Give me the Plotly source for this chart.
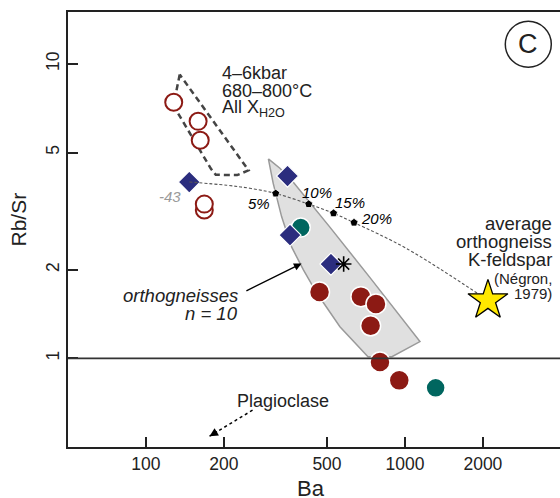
import numpy as np
import plotly.graph_objects as go

# ---------------- data ----------------
ba_open = [128, 159, 162, 168, 168]
rbsr_open = [7.41, 6.38, 5.50, 3.19, 3.34]

ba_red = [468, 676, 773, 737, 801, 951]
rbsr_red = [1.68, 1.62, 1.53, 1.29, 0.972, 0.842]

ba_dia = [147, 352, 360, 518]
rbsr_dia = [3.97, 4.16, 2.62, 2.09]

ba_teal = [396, 1314]
rbsr_teal = [2.78, 0.794]

ba_star = [2092]
rbsr_star = [1.574]

ba_ast = [580]
rbsr_ast = [2.09]

mix_ba = [147, 205, 252, 317, 425, 530, 636, 1015, 2092]
mix_rbsr = [3.97, 3.87, 3.78, 3.63, 3.34, 3.11, 2.89, 2.36, 1.574]

mix_tick_ba = [317, 425, 530, 636]
mix_tick_rbsr = [3.63, 3.34, 3.11, 2.89]
mix_tick_labels = ["5%", "10%", "15%", "20%"]

field_ba = [297, 329, 370, 513, 733, 1143, 891, 720, 561, 456, 405, 365, 334, 310, 297]
field_rbsr = [4.76, 4.42, 3.97, 2.79, 1.88, 1.14, 1.013, 1.013, 1.28, 1.67, 2.00, 2.39, 3.03, 3.93, 4.76]

melt_ba = [135, 130, 131, 178, 186, 225, 249, 135]
melt_rbsr = [9.2, 7.81, 6.95, 4.41, 4.20, 4.19, 4.35, 9.2]

plag_ba = [258, 176]
plag_rbsr = [0.667, 0.544]

x_ticks = [100, 200, 500, 1000, 2000]
y_ticks = [1, 2, 5, 10]

# ---------------- styles ----------------
FONT = "Liberation Sans, Arial, Helvetica, sans-serif"
DARK = "#222222"
RED = "#8C1A14"
NAVY = "#2B2D7E"
TEAL = "#00665F"

W, H = 560, 498
L, R, T, B = 68, 0, 12, 51
PW, PH = W - L - R, H - T - B


def px(x):
    return (x - L) / PW


def py(y):
    return (H - B - y) / PH


fig = go.Figure()

# grey orthogneiss field
fig.add_trace(go.Scatter(x=field_ba, y=field_rbsr, mode="lines", fill="toself",
                         fillcolor="#E0E0E0", line=dict(color="#9A9A9A", width=1.5),
                         hoverinfo="skip"))
# dashed melt field
fig.add_trace(go.Scatter(x=melt_ba, y=melt_rbsr, mode="lines",
                         line=dict(color="#444444", width=2.5, dash="6px,4px"),
                         hoverinfo="skip"))
# open circles
fig.add_trace(go.Scatter(x=ba_open, y=rbsr_open, mode="markers",
                         marker=dict(symbol="circle", size=17, color="white",
                                     line=dict(color=RED, width=2))))
# teal circles
fig.add_trace(go.Scatter(x=ba_teal, y=rbsr_teal, mode="markers",
                         marker=dict(symbol="circle", size=19, color=TEAL,
                                     line=dict(color="white", width=1.5))))
# diamonds
fig.add_trace(go.Scatter(x=ba_dia, y=rbsr_dia, mode="markers",
                         marker=dict(symbol="diamond", size=17, color=NAVY,
                                     line=dict(color="white", width=1.2))))
# mixing curve
fig.add_trace(go.Scatter(x=mix_ba, y=mix_rbsr, mode="lines", line_shape="spline",
                         line=dict(color="#555555", width=1.1, dash="3px,2px"),
                         hoverinfo="skip"))
fig.add_trace(go.Scatter(x=mix_tick_ba, y=mix_tick_rbsr, mode="markers",
                         marker=dict(symbol="pentagon", size=8.5, color="black",
                                     line=dict(color="white", width=0.8))))
# red filled circles
fig.add_trace(go.Scatter(x=ba_red, y=rbsr_red, mode="markers",
                         marker=dict(symbol="circle", size=20, color=RED,
                                     line=dict(color="white", width=1.5))))
# asterisk
fig.add_trace(go.Scatter(x=ba_ast, y=rbsr_ast, mode="markers",
                         marker=dict(symbol="asterisk-open", size=13, color="black",
                                     line=dict(color="black", width=1.6))))
# star
fig.add_trace(go.Scatter(x=ba_star, y=rbsr_star, mode="markers",
                         marker=dict(symbol="star", size=30, color="#FFE800",
                                     line=dict(color="black", width=1.3))))
# plagioclase dotted arrow line
fig.add_trace(go.Scatter(x=plag_ba, y=plag_rbsr, mode="lines",
                         line=dict(color="black", width=1.5, dash="dot"),
                         hoverinfo="skip"))

ann = []


def txt(text, x, y, size=18, xanchor="left", color=DARK, italic=False, **kw):
    if italic:
        text = "<i>" + text + "</i>"
    ann.append(dict(text=text, x=px(x), y=py(y), xref="paper", yref="paper",
                    xanchor=xanchor, yanchor="middle", showarrow=False,
                    font=dict(family=FONT, size=size, color=color), **kw))


txt("4–6kbar", 220, 72.7)
txt("680–800°C", 220, 90.7)
txt("All X<sub>H2O</sub>", 220, 108.3)
txt("average", 554, 223.3, size=18.5, xanchor="right")
txt("orthogneiss", 554, 241.0, size=18.5, xanchor="right")
txt("K-feldspar", 554, 259.5, size=18.5, xanchor="right")
txt("(Négron,", 554, 278.5, size=15, xanchor="right")
txt("1979)", 554, 293.5, size=15, xanchor="right")
txt("orthogneisses", 240, 295, size=18.5, xanchor="right", italic=True)
txt("n = 10", 240, 313.3, size=18.5, xanchor="right", italic=True)
txt("Plagioclase", 283, 400.7, xanchor="center")
txt("-43", 182.7, 196.7, size=15, xanchor="right", color="#9A9A9A", italic=True)
txt("C", 528.3, 44.3, size=27, xanchor="center")
txt("Ba", 311, 488, size=22, xanchor="center")
txt("Rb/Sr", 17.5, 220, size=21, xanchor="center", textangle=-90)

# percent labels
for lab, (lx, ly) in zip(mix_tick_labels, [(259.3, 203.3), (316.7, 192.7), (350, 202.3), (376, 219)]):
    txt(lab, lx, ly, size=15, xanchor="center", color="black", italic=True)

# arrows
ann.append(dict(x=np.log10(399), y=np.log10(2.10), xref="x", yref="y",
                ax=np.log10(241), ay=np.log10(1.686), axref="x", ayref="y",
                showarrow=True, arrowhead=2, arrowsize=1.1, arrowwidth=1.4,
                arrowcolor="black", text=""))
ann.append(dict(x=np.log10(plag_ba[1]), y=np.log10(plag_rbsr[1]), xref="x", yref="y",
                ax=9, ay=-5.5, showarrow=True, arrowhead=2, arrowsize=1.3,
                arrowwidth=1.3, arrowcolor="black", text=""))

shapes = [
    dict(type="line", xref="paper", yref="y", x0=0, x1=1, y0=1, y1=1,
         line=dict(color="#333333", width=1.6)),
    dict(type="circle", xref="paper", yref="paper",
         x0=px(505.3), x1=px(551.3), y0=py(67.3), y1=py(21.3),
         line=dict(color=DARK, width=1.5)),
]

fig.update_layout(
    width=W, height=H, margin=dict(l=L, r=R, t=T, b=B),
    plot_bgcolor="white", paper_bgcolor="white", showlegend=False,
    annotations=ann, shapes=shapes,
    font=dict(family=FONT, color=DARK),
    xaxis=dict(type="log", range=[np.log10(50), np.log10(3970)],
               tickvals=x_ticks, ticktext=[str(v) for v in x_ticks],
               ticks="inside", ticklen=10, tickwidth=1.5, tickcolor=DARK,
               showline=True, linecolor=DARK, linewidth=1.6, mirror=True,
               showgrid=False, zeroline=False,
               tickfont=dict(family=FONT, size=17.5, color=DARK)),
    yaxis=dict(type="log", range=[np.log10(0.5), np.log10(15)],
               tickvals=y_ticks, ticktext=[str(v) for v in y_ticks],
               ticks="inside", ticklen=10, tickwidth=1.5, tickcolor=DARK,
               showline=True, linecolor=DARK, linewidth=1.6,
               showgrid=False, zeroline=False, tickangle=-90,
               tickfont=dict(family=FONT, size=17.5, color=DARK)),
)

fig.write_html("out.html", config={"displayModeBar": False},
               post_script="document.body.style.margin='0';document.body.style.padding='0';")
